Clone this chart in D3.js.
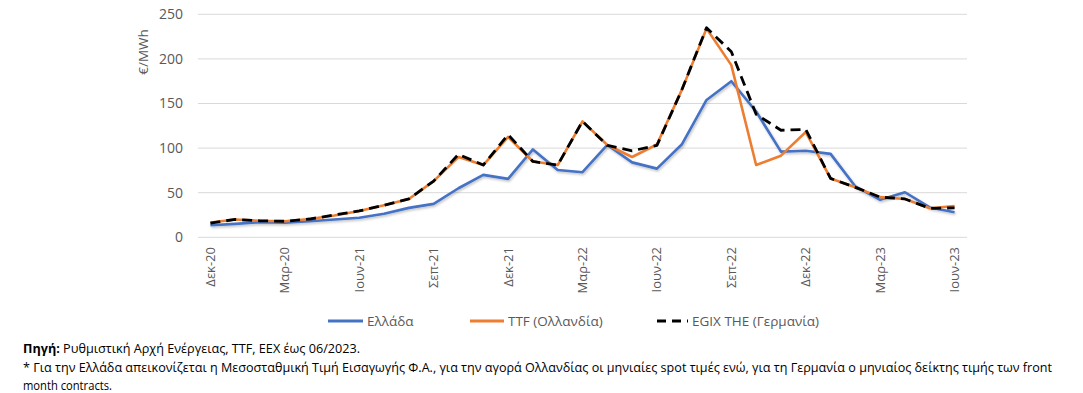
<!DOCTYPE html>
<html><head><meta charset="utf-8">
<script src="https://cdn.jsdelivr.net/npm/d3@7"></script>
<style>
body{margin:0;background:#fff;}
text{font-family:"Open Sans","Liberation Sans",sans-serif;}
</style></head>
<body><svg id="c" width="1083" height="393"></svg>
<script>
const months = ["Δεκ-20","Ιαν-21","Φεβ-21","Μαρ-20","Απρ-21","Μαϊ-21","Ιουν-21","Ιουλ-21","Αυγ-21","Σεπ-21","Οκτ-21","Νοε-21","Δεκ-21","Ιαν-22","Φεβ-22","Μαρ-22","Απρ-22","Μαϊ-22","Ιουν-22","Ιουλ-22","Αυγ-22","Σεπ-22","Οκτ-22","Νοε-22","Δεκ-22","Ιαν-23","Φεβ-23","Μαρ-23","Απρ-23","Μαϊ-23","Ιουν-23"];
const shownLabels = ["Δεκ-20","Μαρ-20","Ιουν-21","Σεπ-21","Δεκ-21","Μαρ-22","Ιουν-22","Σεπ-22","Δεκ-22","Μαρ-23","Ιουν-23"];
const greece = [13.5,15,17,16.5,18,20,22,26.5,33,37.5,55,70,65.5,98.5,75.5,73,103.5,84,77,104,154,175,141,96,97,93.5,57,42,50.5,33.5,28];
const ttf    = [16.5,20,18.5,18,20.5,24.5,29.5,36,43,63,90,81,112.5,85,81,130,103.5,90,104,165,234,193,81,91.5,118,66,56,45,43,32.5,35];
const egix   = [16,20,18.5,18,20.5,25,29.5,36,43,63,93,81,115,85,81,130,103,97,103,165,235,208,138,120,121,66,56,45,43,32.5,33];
const yTicks = [0,50,100,150,200,250];
const seriesNames = ["Ελλάδα","TTF (Ολλανδία)","EGIX THE (Γερμανία)"];
const footSource = "Ρυθμιστική Αρχή Ενέργειας, TTF, EEX έως 06/2023.";
const footNote1 = "* Για την Ελλάδα απεικονίζεται η Μεσοσταθμική Τιμή Εισαγωγής Φ.Α., για την αγορά Ολλανδίας οι μηνιαίες spot τιμές ενώ, για τη Γερμανία ο μηνιαίος δείκτης τιμής των front";
const footNote2 = "month contracts.";

const svg = d3.select("#c");
const L=198, R=967, T=14.3, B=237.3;
const x = d3.scaleBand().domain(d3.range(months.length)).range([L,R]);
const y = d3.scaleLinear().domain([0,250]).range([B,T]);
const cx = i => x(i)+x.bandwidth()/2;

// gridlines
svg.append("g").selectAll("line").data(yTicks).join("line")
  .attr("x1",L).attr("x2",R).attr("y1",d=>y(d)).attr("y2",d=>y(d))
  .attr("stroke","#d9d9d9").attr("stroke-width",1);

// y labels
svg.append("g").selectAll("text").data(yTicks).join("text")
  .attr("x",183).attr("y",d=>y(d)).attr("dy","0.35em").attr("text-anchor","end")
  .attr("font-size",14).attr("fill","#595959").text(d=>d);

// y title
svg.append("text").attr("transform","translate(148,52) rotate(-90)")
  .attr("text-anchor","middle").attr("font-size",13.5).attr("fill","#595959").text("€/MWh");

// x labels
svg.append("g").selectAll("text").data(months.map((m,i)=>[m,i]).filter((d,i)=>i%3===0)).join("text")
  .attr("transform",(d,k)=>`translate(${cx(d[1])+4.5},247) rotate(-90)`)
  .attr("text-anchor","end").attr("font-size",13).attr("fill","#595959")
  .text((d,k)=>shownLabels[k]);

const line = d3.line().x((d,i)=>cx(i)).y(d=>y(d));
const defs = svg.append("defs");
defs.append("filter").attr("id","sh").attr("x","-5%").attr("y","-5%").attr("width","110%").attr("height","120%")
  .append("feDropShadow").attr("dx",1).attr("dy",1.5).attr("stdDeviation",1).attr("flood-color","#000").attr("flood-opacity",0.25);

svg.append("path").datum(greece).attr("d",line).attr("fill","none")
  .attr("stroke","#4472C4").attr("stroke-width",2.6).attr("stroke-linejoin","round").attr("filter","url(#sh)");
svg.append("path").datum(ttf).attr("d",line).attr("fill","none")
  .attr("stroke","#ED7D31").attr("stroke-width",2.6).attr("stroke-linejoin","round");
svg.append("path").datum(egix).attr("d",line).attr("fill","none")
  .attr("stroke","#000").attr("stroke-width",2.8).attr("stroke-dasharray","10,6").attr("stroke-linejoin","round");

// legend
const leg = [
  {x1:328,x2:363,tx:367,c:"#4472C4",dash:null},
  {x1:470,x2:504,tx:508,c:"#ED7D31",dash:null},
  {x1:657,x2:688,tx:692,c:"#000",dash:"9,6"}
];
const lg = svg.append("g");
leg.forEach((l,i)=>{
  lg.append("line").attr("x1",l.x1).attr("x2",l.x2).attr("y1",321).attr("y2",321)
    .attr("stroke",l.c).attr("stroke-width",2.8).attr("stroke-dasharray",l.dash);
  lg.append("text").attr("x",l.tx).attr("y",321).attr("dy","0.35em").attr("font-size",13.5)
    .attr("fill","#595959").text(seriesNames[i]);
});

// footnote
const f = svg.append("g").attr("fill","#000");
const t1 = f.append("text").attr("x",23).attr("y",353).attr("font-size",12.5)
  .attr("textLength",337).attr("lengthAdjust","spacingAndGlyphs");
t1.append("tspan").attr("font-weight","bold").text("Πηγή:");
t1.append("tspan").text(" "+footSource);
f.append("text").attr("x",23).attr("y",372).attr("font-size",12.5)
  .attr("textLength",1029).attr("lengthAdjust","spacingAndGlyphs").text(footNote1);
f.append("text").attr("x",23).attr("y",390).attr("font-size",12.5)
  .attr("textLength",89).attr("lengthAdjust","spacingAndGlyphs").text(footNote2);
</script></body></html>
